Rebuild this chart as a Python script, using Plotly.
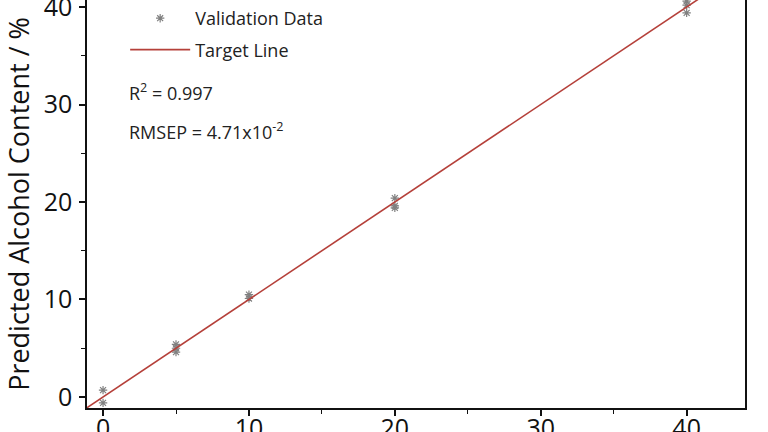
import plotly.graph_objects as go

# Validation data (actual vs predicted alcohol content, %)
actual = [0, 0, 5, 5, 5, 10, 10, 20, 20, 20, 40, 40, 40]
predicted = [0.7, -0.6, 5.4, 5.0, 4.6, 10.5, 10.1, 20.4, 19.6, 19.4, 40.6, 40.2, 39.4]

# Target line y = x
target_x = [-1.1, 44]
target_y = [-1.1, 44]

x_ticks = [0, 10, 20, 30, 40]
y_ticks = [0, 10, 20, 30, 40]

FONT = "Open Sans"

fig = go.Figure()
fig.add_trace(go.Scatter(
    x=actual, y=predicted, mode="markers", name="Validation Data", legendgroup="a",
    marker=dict(symbol="asterisk-open", size=7, color="#808080",
                line=dict(color="#707070", width=1.2)),
))
fig.add_trace(go.Scatter(
    x=target_x, y=target_y, mode="lines", name="Target Line", legendgroup="b",
    line=dict(color="#b5403a", width=1.6),
))

fig.update_layout(
    width=768, height=432,
    margin=dict(l=87, r=23, t=0, b=24, autoexpand=False),
    paper_bgcolor="white", plot_bgcolor="white",
    font=dict(family=FONT, color="#111111"),
    showlegend=True,
    legend=dict(x=0.058, y=1.0, xanchor="left", yanchor="top",
                font=dict(size=18, family=FONT, color="#222222"),
                bgcolor="rgba(0,0,0,0)", itemwidth=60, tracegroupgap=5),
    xaxis=dict(range=[-1.1, 44], tickvals=x_ticks, showgrid=False, zeroline=False,
               automargin=False, ticklabeloverflow="allow",
               showline=True, linecolor="#111111", linewidth=1.5, mirror=False,
               ticks="outside", ticklen=6, tickwidth=1.5, tickcolor="#111111",
               tickfont=dict(size=25, family=FONT), ticklabelstandoff=-9,
               minor=dict(tickvals=[5, 15, 25, 35], ticks="outside", ticklen=4,
                          tickwidth=1.2, tickcolor="#111111")),
    yaxis=dict(range=[-1.13, 40.72], tickvals=y_ticks, showgrid=False, zeroline=False,
               automargin=False, ticklabeloverflow="allow",
               showline=True, linecolor="#111111", linewidth=1.5, mirror=True,
               ticks="outside", ticklen=6, tickwidth=1.5, tickcolor="#111111",
               tickfont=dict(size=25, family=FONT), ticklabelstandoff=2,
               minor=dict(tickvals=[5, 15, 25, 35], ticks="outside", ticklen=4,
                          tickwidth=1.2, tickcolor="#111111"),
               title=dict(text="Predicted Alcohol Content / %",
                          font=dict(size=27, family=FONT), standoff=8)),
)

fig.add_annotation(xref="paper", yref="paper", x=(127 - 87) / 658, y=(408 - 92) / 408,
                   xanchor="left", yanchor="middle", showarrow=False,
                   text="R<sup>2</sup> = 0.997", font=dict(size=18, family=FONT, color="#222222"))
fig.add_annotation(xref="paper", yref="paper", x=(127 - 87) / 658, y=(408 - 131) / 408,
                   xanchor="left", yanchor="middle", showarrow=False,
                   text="RMSEP = 4.71x10<sup>-2</sup>", font=dict(size=18, family=FONT, color="#222222"))

fig.write_html("out.html")
